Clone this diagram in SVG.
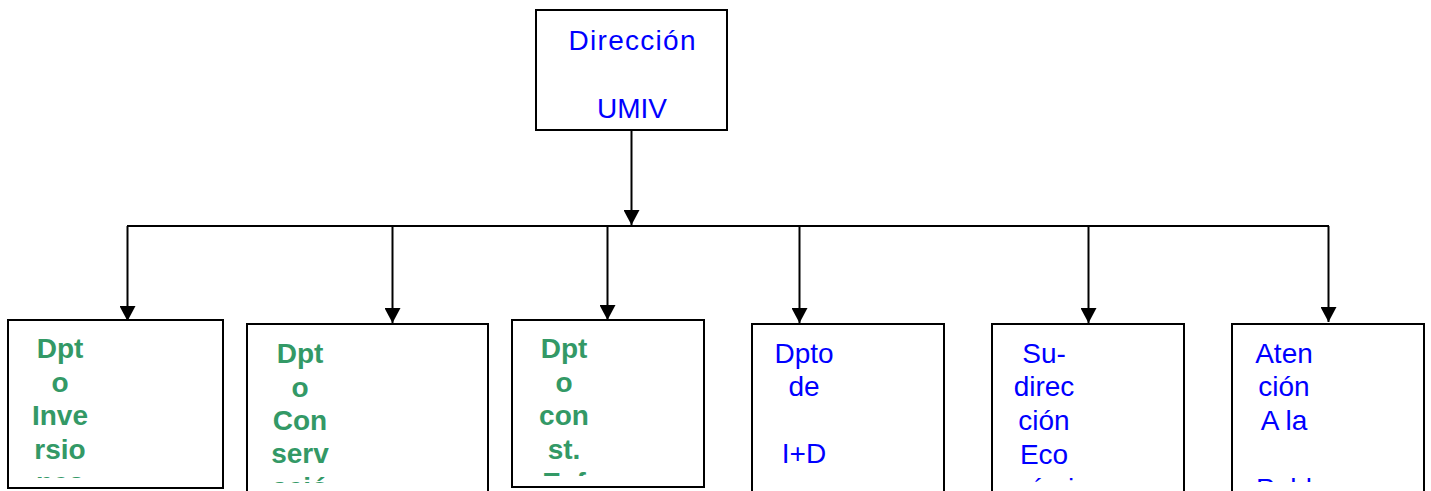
<svg xmlns="http://www.w3.org/2000/svg" width="1431" height="491" viewBox="0 0 1431 491">
<style>
.box{fill:#fff;stroke:#000;stroke-width:2}
.con{fill:none;stroke:#000;stroke-width:2}
.blue{font-family:"Liberation Sans",Arial,sans-serif;font-size:28px;fill:#0000ff;text-anchor:middle}
.green{font-family:"Liberation Sans",Arial,sans-serif;font-size:28px;font-weight:bold;fill:#339966;text-anchor:middle}
</style>
<defs>
<marker id="arr" markerUnits="userSpaceOnUse" markerWidth="15" markerHeight="16" refX="15" refY="8" orient="auto" viewBox="0 0 15 16">
<path d="M0,0 L15,8 L0,16 Z" fill="#000"/>
</marker>
<clipPath id="c1"><rect x="8" y="320" width="215" height="158"/></clipPath>
<clipPath id="c2"><rect x="247" y="324" width="241" height="159"/></clipPath>
<clipPath id="c3"><rect x="512" y="320" width="192" height="156"/></clipPath>
<clipPath id="c4"><rect x="752" y="324" width="192" height="159"/></clipPath>
<clipPath id="c5"><rect x="992" y="324" width="192" height="158"/></clipPath>
<clipPath id="c6"><rect x="1232" y="324" width="192" height="158"/></clipPath>
</defs>
<g id="connectors">
<line class="con" x1="631.5" y1="130" x2="631.5" y2="225" marker-end="url(#arr)"/>
<line class="con" x1="127" y1="226" x2="1329" y2="226"/>
<line class="con" x1="127.5" y1="226" x2="127.5" y2="321" marker-end="url(#arr)"/>
<line class="con" x1="392.5" y1="226" x2="392.5" y2="323" marker-end="url(#arr)"/>
<line class="con" x1="607.5" y1="226" x2="607.5" y2="320" marker-end="url(#arr)"/>
<line class="con" x1="799.5" y1="226" x2="799.5" y2="323" marker-end="url(#arr)"/>
<line class="con" x1="1088.5" y1="226" x2="1088.5" y2="323" marker-end="url(#arr)"/>
<line class="con" x1="1328.5" y1="226" x2="1328.5" y2="322" marker-end="url(#arr)"/>
</g>
<g id="direccion">
<rect class="box" x="536" y="10" width="191" height="120"/>
<text class="blue" x="632" y="50" textLength="127" lengthAdjust="spacing">Dirección</text>
<text class="blue" x="632" y="118">UMIV</text>
</g>
<g id="dpto-inversiones">
<rect class="box" x="8" y="320" width="215" height="168"/>
<g clip-path="url(#c1)">
<text class="green" x="60" y="358">Dpt</text>
<text class="green" x="60" y="391.5">o</text>
<text class="green" x="60" y="425">Inve</text>
<text class="green" x="60" y="458.5">rsio</text>
<text class="green" x="60" y="492">nes</text>
</g>
</g>
<g id="dpto-conservacion">
<rect class="box" x="247" y="324" width="241" height="180"/>
<g clip-path="url(#c2)">
<text class="green" x="300" y="362.5">Dpt</text>
<text class="green" x="300" y="396.5">o</text>
<text class="green" x="300" y="429.5">Con</text>
<text class="green" x="300" y="463">serv</text>
<text class="green" x="300" y="496.5">ació</text>
</g>
</g>
<g id="dpto-const">
<rect class="box" x="512" y="320" width="192" height="167"/>
<g clip-path="url(#c3)">
<text class="green" x="564" y="358">Dpt</text>
<text class="green" x="564" y="391.5">o</text>
<text class="green" x="564" y="425">con</text>
<text class="green" x="564" y="458.5">st.</text>
<text class="green" x="564" y="492">Esf</text>
</g>
</g>
<g id="dpto-id">
<rect class="box" x="752" y="324" width="192" height="180"/>
<g clip-path="url(#c4)">
<text class="blue" x="804" y="362.5">Dpto</text>
<text class="blue" x="804" y="396">de</text>
<text class="blue" x="804" y="463">I+D</text>
</g>
</g>
<g id="subdireccion">
<rect class="box" x="992" y="324" width="192" height="180"/>
<g clip-path="url(#c5)">
<text class="blue" x="1044" y="362.5">Su-</text>
<text class="blue" x="1044" y="396">direc</text>
<text class="blue" x="1044" y="430">ción</text>
<text class="blue" x="1044" y="464">Eco</text>
<text class="blue" x="1044" y="497.5">nómi</text>
</g>
</g>
<g id="atencion">
<rect class="box" x="1232" y="324" width="192" height="180"/>
<g clip-path="url(#c6)">
<text class="blue" x="1284" y="362.5">Aten</text>
<text class="blue" x="1284" y="396">ción</text>
<text class="blue" x="1284" y="429.5">A la</text>
<text class="blue" x="1284" y="497.5">Publ</text>
</g>
</g>
</svg>
